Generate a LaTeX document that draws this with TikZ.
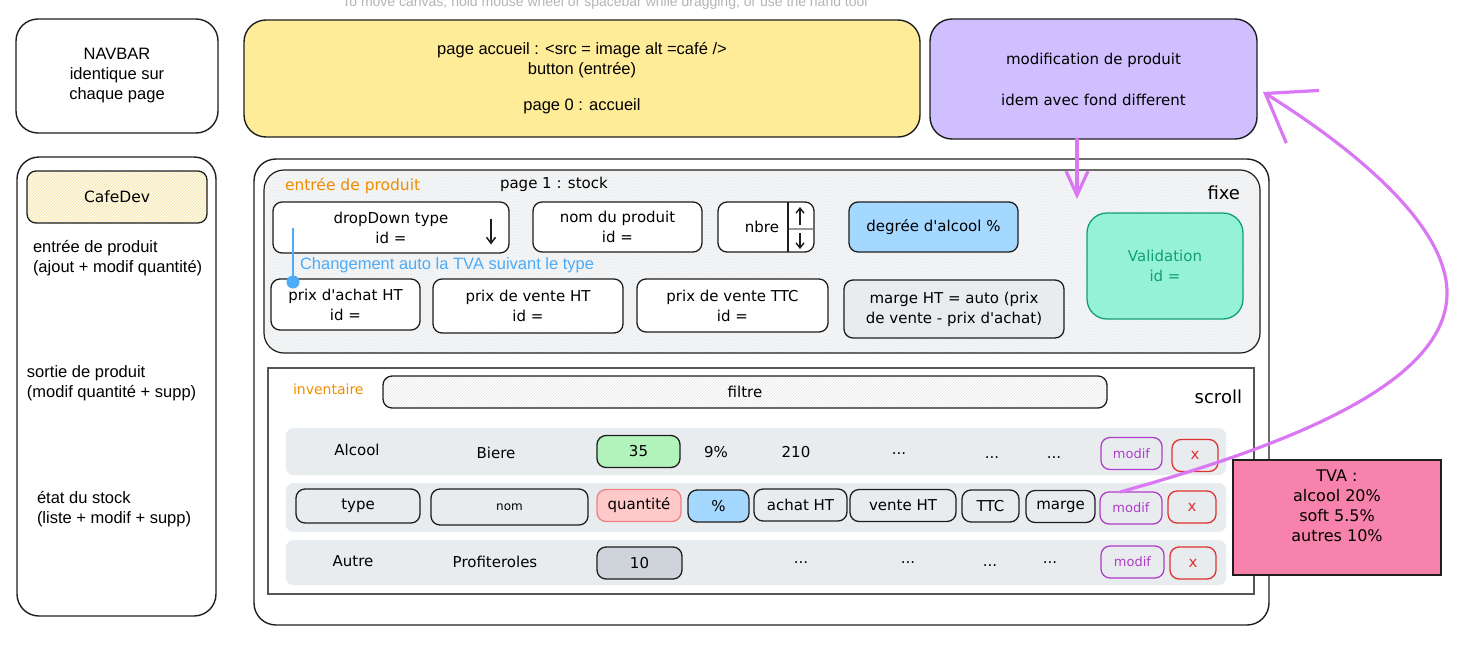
\documentclass[tikz,border=0pt]{standalone}
\usepackage{fontspec}
\setmainfont{Liberation Sans}
\newfontfamily\handfont{DejaVu Sans}
\usetikzlibrary{arrows.meta,patterns}
\definecolor{ink}{HTML}{1E1E1E}
\definecolor{yellowfill}{HTML}{FFEC99}
\definecolor{violetfill}{HTML}{D0BFFF}
\definecolor{bluefill}{HTML}{A5D8FF}
\definecolor{tealfill}{HTML}{96F2D7}
\definecolor{tealink}{HTML}{12A072}
\definecolor{greyfill}{HTML}{E9ECEF}
\definecolor{greenfill}{HTML}{B2F2BB}
\definecolor{redfill}{HTML}{FFC9C9}
\definecolor{redink}{HTML}{E03131}
\definecolor{slatefill}{HTML}{CED4DA}
\definecolor{pinkfill}{HTML}{F783AC}
\definecolor{violetink}{HTML}{AE3EC9}
\definecolor{arrowpink}{HTML}{DA77F2}
\definecolor{orangeink}{HTML}{F08C00}
\definecolor{blueink}{HTML}{4DABF7}
\definecolor{hintgrey}{HTML}{B4B4B4}
\definecolor{panelfill}{HTML}{F8F9FA}
\definecolor{hatchgrey}{HTML}{E3E5E8}
\definecolor{crossgrey}{HTML}{ECEEF0}
\definecolor{hatchyellow}{HTML}{F2E2A2}
\definecolor{cafefill}{HTML}{FFFBEA}

\begin{document}
\begin{tikzpicture}[x=1pt,y=-1pt,
   every node/.style={inner sep=0pt,outer sep=0pt},
   helv/.style={font=\fontsize{#1}{20}\selectfont},helv/.default=16.5,
   hand/.style={font=\handfont\fontsize{#1}{20}\selectfont},hand/.default=15,
   frame/.style={draw=ink,line width=1.4pt,rounded corners=22pt},
   field/.style={draw=ink,line width=1.3pt,rounded corners=9pt,hand,align=center},
   rowbar/.style={fill=greyfill,draw=greyfill,rounded corners=8pt,minimum width=940},
   cell/.style={field,minimum height=32},
   modifbtn/.style={cell,draw=violetink,text=violetink,hand=13},
   delbtn/.style={cell,draw=redink,text=redink},
   flow/.style={draw=arrowpink,line width=3.2pt,line cap=round}]
\useasboundingbox (0,0) rectangle (1464,664);
\clip (0,0) rectangle (1464,664);
\node[helv=14,text=hintgrey,anchor=base] (hint) at (605,6) {To move canvas, hold mouse wheel or spacebar while dragging, or use the hand tool};

\node[frame,minimum width=202,minimum height=114,helv,align=center] (navbar) at (117,76) {NAVBAR\\identique sur\\chaque page};
\node[frame,fill=yellowfill,minimum width=676,minimum height=117,helv,align=center] (accueil) at (582,78.5)
   {page accueil : <src = image alt =café />\\button (entrée)\\[16pt]page 0 : accueil};
\node[frame,fill=violetfill,minimum width=327,minimum height=120,hand,align=center] (modprod) at (1093.5,79)
   {modification de produit\\[21pt]idem avec fond different};

\node[frame,minimum width=199,minimum height=459] (sidebar) at (116.5,386.5) {};
\node[field,preaction={fill=cafefill},pattern=north east lines,pattern color=hatchyellow,
   minimum width=180,minimum height=52,hand=15.5] (cafedev) at (117,197) {CafeDev};
\node[helv,align=left,anchor=north west] (menuentree) at (33,240) {entrée de produit\\(ajout + modif quantité)};
\node[helv,align=left,anchor=north west] (menusortie) at (27,366) {sortie de produit\\(modif quantité + supp)};
\node[helv,align=left,anchor=north west] (menuetat) at (37,491) {état du stock\\(liste + modif + supp)};

\node[frame,minimum width=1015,minimum height=466] (stockpage) at (761.5,392) {};
\node[frame,rounded corners=20pt,line width=1.2pt,preaction={fill=panelfill},pattern=crosshatch,pattern color=crossgrey,
   minimum width=996,minimum height=183] (fixe) at (762,261.5) {};
\node[hand=15.5,text=orangeink,anchor=west] (lblentree) at (285,186) {entrée de produit};
\node[hand,anchor=west] (lblpage) at (500,184) {page 1 : stock};
\node[hand=18,anchor=east] (lblfixe) at (1240,193) {fixe};

\node[field,fill=white,minimum width=236,minimum height=51] (dropdown) at (391,227.5) {dropDown type\\id =};
\draw[ink,line width=1.5pt,-{Straight Barb[length=6pt,width=9pt]}] ([shift={(100,-9)}]dropdown.center) -- ([shift={(100,17)}]dropdown.center);
\node[field,fill=white,minimum width=169,minimum height=50] (nomprod) at (617.5,227) {nom du produit\\id =};
\node[field,fill=white,minimum width=96,minimum height=50] (nbre) at (766,227) {nbre\hspace*{8pt}};
\draw[ink,line width=1.4pt] ([xshift=22]nbre.north) -- ([xshift=22]nbre.south);
\draw[ink!45,line width=1.3pt] ([shift={(23,2)}]nbre.center) -- ([shift={(47,2)}]nbre.center);
\draw[ink,line width=1.4pt,-{Straight Barb[length=5pt,width=8pt]}] ([shift={(34,-2)}]nbre.center) -- ([shift={(34,-20)}]nbre.center);
\draw[ink,line width=1.4pt,-{Straight Barb[length=5pt,width=8pt]}] ([shift={(34,6)}]nbre.center) -- ([shift={(34,22)}]nbre.center);
\node[field,fill=bluefill,minimum width=169,minimum height=50] (degre) at (933.5,227) {degrée d'alcool \%};
\node[field,fill=tealfill,draw=tealink,text=tealink,rounded corners=20pt,minimum width=156,minimum height=106] (validation) at (1165,266) {Validation\\id =};

\node[field,fill=white,minimum width=149,minimum height=51] (prixachat) at (345.5,304.5) {prix d'achat HT\\id =};
\node[field,fill=white,minimum width=190,minimum height=54] (prixventeht) at (528,306) {prix de vente HT\\id =};
\node[field,fill=white,minimum width=191,minimum height=53] (prixttc) at (732.5,305.5) {prix de vente TTC\\id =};
\node[field,fill=greyfill,minimum width=220,minimum height=58] (marge) at (954,309) {marge HT = auto (prix\\de vente - prix d'achat)};

\node[circle,fill=blueink,minimum size=13] (dot) at (293,282) {};
\draw[blueink,line width=1.8pt] ([xshift=-98]dropdown.center) -- (dot);
\node[helv,text=blueink,anchor=west] (tvanote) at (300,265) {Changement auto la TVA suivant le type};

\node[draw=ink!75,line width=1.3pt,minimum width=986,minimum height=226] (inventaire) at (761,481) {};
\node[hand=14,text=orangeink,anchor=west] (lblinv) at (293,389) {inventaire};
\node[field,preaction={fill=white},pattern=north east lines,pattern color=hatchgrey,minimum width=724,minimum height=32] (filtre) at (745,392) {filtre};
\node[hand=18,anchor=east] (lblscroll) at (1242,397) {scroll};

\node[rowbar,minimum height=47] (rowalcool) at (756,451.5) {};
\node[hand] (typealcool) at (357,450) {Alcool};
\node[hand] (nomalcool) at (496,453) {Biere};
\node[cell,fill=greenfill,minimum width=83] (qtealcool) at (638.5,451.5) {35};
\node[hand] (pctalcool) at (716,452) {9\%};
\node[hand] (achatalcool) at (796,452) {210};
\node[hand] (suitea) at (899,454) {...};
\node[hand] (suiteb) at (992,458) {...};
\node[hand] (suitec) at (1054,458) {...};
\node[modifbtn,minimum width=61] (modif1) at (1131.5,453.5) {modif};
\node[delbtn,minimum width=46] (del1) at (1195,455.5) {x};

\node[rowbar,minimum height=49] (rowmodele) at (756,507.5) {};
\node[cell,minimum width=124,minimum height=34] (coltype) at (358,506) {type};
\node[cell,minimum width=157,minimum height=36,hand=12] (colnom) at (509.5,507) {nom};
\node[cell,fill=redfill,draw=redink!60,minimum width=84] (colqte) at (639,505.5) {quantité};
\node[cell,fill=bluefill,minimum width=61] (colpct) at (718.5,506) {\%};
\node[cell,minimum width=93] (colachat) at (800.5,505) {achat HT};
\node[cell,minimum width=106] (colvente) at (903,505.5) {vente HT};
\node[cell,minimum width=57] (colttc) at (990.5,506) {TTC};
\node[cell,minimum width=69] (colmarge) at (1060.5,506.5) {marge};
\node[modifbtn,minimum width=62] (modif2) at (1131,508) {modif};
\node[delbtn,minimum width=48] (del2) at (1192,507) {x};

\node[rowbar,minimum height=45] (rowautre) at (756,562.5) {};
\node[hand] (typeautre) at (353,561) {Autre};
\node[hand] (nomautre) at (495,562) {Profiteroles};
\node[cell,fill=slatefill,minimum width=85] (qteautre) at (639.5,563) {10};
\node[hand] (suited) at (801,563) {...};
\node[hand] (suitee) at (908,563) {...};
\node[hand] (suitef) at (990,566) {...};
\node[hand] (suiteg) at (1050,563) {...};
\node[modifbtn,minimum width=63] (modif3) at (1132.5,562) {modif};
\node[delbtn,minimum width=46] (del3) at (1193,563) {x};

\node[draw=ink,line width=1.2pt,fill=pinkfill,minimum width=208,minimum height=115] (tva) at (1337,517.5) {};
\node[hand=16,align=center] (tvataux) at ([yshift=12]tva.center) {TVA :\\alcool 20\%\\soft 5.5\%\\autres 10\%};

\coordinate (fixein) at (1077,199);
\coordinate (modin) at ([shift={(6,13)}]modprod.east);
\draw[flow,-{Straight Barb[length=24pt,width=22pt]}] (modprod.south -| fixein) -- (fixein);
\draw[flow,-{Straight Barb[length=44pt,width=62pt]}] ([xshift=20]modif2.north west)
   .. controls (1300,442) and (1447,380) .. (1447,293)
   .. controls (1447,220) and (1340,140) .. (modin);
\end{tikzpicture}
\end{document}
